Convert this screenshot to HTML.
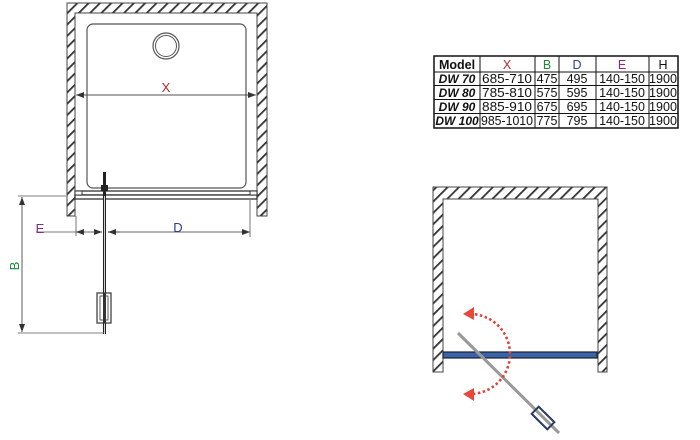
<!DOCTYPE html>
<html><head><meta charset="utf-8"><style>
html,body{margin:0;padding:0;background:#fff;width:700px;height:440px;overflow:hidden}
svg{display:block}
text{font-family:"Liberation Sans",sans-serif}
</style></head><body>
<svg width="700" height="440" viewBox="0 0 700 440">
<defs>
<pattern id="h" patternUnits="userSpaceOnUse" width="8" height="8" patternTransform="rotate(45)">
<rect width="8" height="8" fill="#fff"/><rect width="1.8" height="8" fill="#333"/>
</pattern>
<marker id="a" markerWidth="8" markerHeight="6" refX="8" refY="3" orient="auto" markerUnits="userSpaceOnUse"><path d="M0,0 L8,3 L0,6z" fill="#333"/></marker>
</defs>
<!-- LEFT DRAWING -->
<path d="M67,3 H267 V216 H257 V13 H75 V216 H67 Z" fill="url(#h)" stroke="#444" stroke-width="1"/>
<rect x="87" y="24" width="159" height="164" rx="6" fill="none" stroke="#555" stroke-width="1.2"/>
<circle cx="166" cy="46" r="13" fill="none" stroke="#555" stroke-width="1.2"/>
<circle cx="166" cy="46" r="10.5" fill="none" stroke="#555" stroke-width="1"/>
<line x1="80" y1="95" x2="256" y2="95" stroke="#444" stroke-width="0.8" marker-end="url(#a)"/>
<line x1="252" y1="95" x2="76" y2="95" stroke="#444" stroke-width="0.8" marker-end="url(#a)"/>
<text x="166" y="92" font-size="13" fill="#c0272d" text-anchor="middle">X</text>
<rect x="75" y="191" width="182" height="4" fill="#fff" stroke="#333" stroke-width="1.3"/>
<rect x="75" y="195" width="182" height="4" fill="#fff" stroke="#333" stroke-width="1.3"/>
<rect x="75" y="191" width="7" height="4" fill="#fff" stroke="#333" stroke-width="1"/>
<rect x="250" y="191" width="7" height="4" fill="#fff" stroke="#333" stroke-width="1"/>
<rect x="103" y="172" width="3" height="162" fill="#222"/>
<rect x="101" y="185" width="7" height="6" fill="#222"/>
<line x1="104.5" y1="196" x2="104.5" y2="334" stroke="#fff" stroke-width="0.8"/>
<rect x="97" y="293" width="14" height="30" fill="#fff" stroke="#333" stroke-width="1.2"/>
<rect x="100" y="296" width="8" height="24" fill="none" stroke="#333" stroke-width="0.8"/>
<rect x="103" y="293" width="3" height="30" fill="#333"/>
<!-- E/D dims -->
<line x1="36" y1="232" x2="76" y2="232" stroke="#555" stroke-width="0.8"/>
<line x1="76" y1="216" x2="76" y2="236" stroke="#555" stroke-width="0.8"/>
<line x1="250" y1="200" x2="250" y2="237" stroke="#555" stroke-width="0.8"/>
<line x1="78" y1="232" x2="76" y2="232" stroke="#333" stroke-width="0.8" marker-end="url(#a)"/>
<line x1="76" y1="232" x2="102" y2="232" stroke="#333" stroke-width="0.8" marker-end="url(#a)"/>
<line x1="120" y1="232" x2="108" y2="232" stroke="#333" stroke-width="0.8" marker-end="url(#a)"/>
<line x1="108" y1="232" x2="250" y2="232" stroke="#333" stroke-width="0.8" marker-end="url(#a)"/>
<text x="40" y="233" font-size="13" fill="#8b2a7f" text-anchor="middle">E</text>
<text x="178" y="232" font-size="13" fill="#2e3f8f" text-anchor="middle">D</text>
<!-- B dim -->
<line x1="18" y1="196" x2="66" y2="196" stroke="#555" stroke-width="0.8"/>
<line x1="18" y1="333" x2="104" y2="333" stroke="#555" stroke-width="0.8"/>
<line x1="22" y1="264" x2="22" y2="197" stroke="#333" stroke-width="0.8" marker-end="url(#a)"/>
<line x1="22" y1="264" x2="22" y2="332" stroke="#333" stroke-width="0.8" marker-end="url(#a)"/>
<text x="0" y="0" font-size="13" fill="#1e8a3a" text-anchor="middle" transform="translate(19,266) rotate(-90)">B</text>
<!-- TABLE -->
<g font-size="12.5" fill="#111">
<rect x="434" y="56" width="244" height="72" fill="#fff" stroke="#111" stroke-width="1.5"/>
<g stroke="#111" stroke-width="1">
<line x1="434" y1="72" x2="678" y2="72"/><line x1="434" y1="85.5" x2="678" y2="85.5"/>
<line x1="434" y1="99.5" x2="678" y2="99.5"/><line x1="434" y1="113.5" x2="678" y2="113.5"/>
<line x1="480" y1="56" x2="480" y2="128"/><line x1="535" y1="56" x2="535" y2="128"/>
<line x1="559" y1="56" x2="559" y2="128"/><line x1="596" y1="56" x2="596" y2="128"/>
<line x1="649" y1="56" x2="649" y2="128"/>
</g>
<text x="457" y="69" text-anchor="middle" font-weight="bold" font-size="12.5">Model</text>
<text x="507" y="69" text-anchor="middle" fill="#c0272d">X</text>
<text x="547" y="69" text-anchor="middle" fill="#1e8a3a">B</text>
<text x="577" y="69" text-anchor="middle" fill="#2e3f8f">D</text>
<text x="622" y="69" text-anchor="middle" fill="#8b2a7f">E</text>
<text x="663" y="69" text-anchor="middle">H</text>
<g font-weight="bold" font-style="italic" text-anchor="middle" font-size="12">
<text x="457" y="83">DW 70</text><text x="457" y="97">DW 80</text><text x="457" y="111">DW 90</text><text x="457" y="125">DW 100</text>
</g>
<g text-anchor="middle">
<text x="507" y="83" textLength="50" lengthAdjust="spacingAndGlyphs">685-710</text><text x="547" y="83">475</text><text x="577" y="83">495</text><text x="622" y="83">140-150</text><text x="663" y="83" textLength="28" lengthAdjust="spacingAndGlyphs">1900</text>
<text x="507" y="97" textLength="50" lengthAdjust="spacingAndGlyphs">785-810</text><text x="547" y="97">575</text><text x="577" y="97">595</text><text x="622" y="97">140-150</text><text x="663" y="97" textLength="28" lengthAdjust="spacingAndGlyphs">1900</text>
<text x="507" y="111" textLength="50" lengthAdjust="spacingAndGlyphs">885-910</text><text x="547" y="111">675</text><text x="577" y="111">695</text><text x="622" y="111">140-150</text><text x="663" y="111" textLength="28" lengthAdjust="spacingAndGlyphs">1900</text>
<text x="507" y="125" textLength="52" lengthAdjust="spacingAndGlyphs">985-1010</text><text x="547" y="125">775</text><text x="577" y="125">795</text><text x="622" y="125">140-150</text><text x="663" y="125" textLength="28" lengthAdjust="spacingAndGlyphs">1900</text>
</g>
</g>
<!-- RIGHT DRAWING -->
<path d="M433,187 H607 V372 H598 V199 H443 V372 H433 Z" fill="url(#h)" stroke="#444" stroke-width="1"/>
<rect x="443" y="352" width="154" height="6" fill="#3a63a8" stroke="#1a2035" stroke-width="1.2"/>
<line x1="458" y1="333" x2="559" y2="433" stroke="#999" stroke-width="3"/>
<g transform="translate(543,418) rotate(44.7)">
<rect x="-11" y="-5" width="22" height="10" fill="none" stroke="#2b3b5c" stroke-width="2"/>
</g>
<path d="M470,314 A40,40 0 0 1 470,394" fill="none" stroke="#d9473c" stroke-width="2.6" stroke-dasharray="2.5,2.5"/>
<path d="M474,307 L463,314 L474,320 Z" fill="#e8473c"/>
<path d="M474,388 L463,394 L474,401 Z" fill="#e8473c"/>
</svg>
</body></html>
